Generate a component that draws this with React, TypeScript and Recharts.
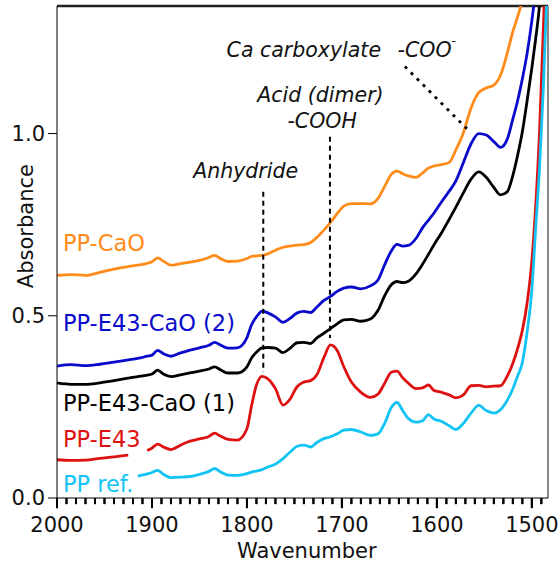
import { LineChart, Line, XAxis, YAxis, ReferenceLine, ReferenceDot } from 'recharts'

// wavenumber (cm-1) sample points
const wavenumbers = [
  2000, 1985, 1970, 1955, 1940, 1925, 1915, 1905, 1900, 1894,
  1888, 1880, 1870, 1860, 1850, 1840, 1834, 1828, 1820, 1810,
  1800, 1795, 1790, 1784, 1778, 1770, 1762, 1755, 1747, 1740,
  1733, 1726, 1719, 1712, 1705, 1698, 1690, 1680, 1670, 1662,
  1655, 1648, 1642, 1636, 1630, 1622, 1615, 1609, 1603, 1595,
  1587, 1580, 1572, 1564, 1556, 1548, 1540, 1533, 1526, 1520,
  1515, 1510, 1505, 1500, 1496, 1492, 1488, 1484,
]

const ppCaO = [
  0.611, 0.613, 0.611, 0.619, 0.628, 0.635, 0.639, 0.644, 0.648, 0.659,
  0.65, 0.639, 0.643, 0.647, 0.652, 0.66, 0.666, 0.657, 0.649, 0.65,
  0.657, 0.663, 0.664, 0.666, 0.67, 0.68, 0.688, 0.691, 0.694, 0.695,
  0.701, 0.716, 0.735, 0.756, 0.78, 0.801, 0.808, 0.808, 0.807, 0.822,
  0.855, 0.888, 0.897, 0.89, 0.884, 0.88, 0.892, 0.905, 0.911, 0.915,
  0.921, 0.955, 1.003, 1.07, 1.112, 1.125, 1.133, 1.16, 1.22, 1.28,
  1.32, 1.37, 1.46, 1.58, 1.7, 1.85, 2.0, 2.1,
]

const ppE43CaO2 = [
  0.362, 0.366, 0.363, 0.367, 0.373, 0.379, 0.383, 0.389, 0.392, 0.405,
  0.396, 0.389, 0.398, 0.406, 0.412, 0.419, 0.427, 0.42, 0.411, 0.412,
  0.44, 0.476, 0.497, 0.513, 0.508, 0.497, 0.482, 0.492, 0.508, 0.512,
  0.509, 0.525, 0.542, 0.553, 0.567, 0.576, 0.579, 0.574, 0.582, 0.598,
  0.64, 0.678, 0.696, 0.691, 0.693, 0.712, 0.742, 0.762, 0.782, 0.813,
  0.842, 0.87, 0.921, 0.972, 1.0, 0.996, 0.978, 0.962, 0.984, 1.04,
  1.09, 1.15, 1.22, 1.31, 1.4, 1.55, 1.72, 1.9,
]

const ppE43CaO1 = [
  0.316, 0.312, 0.312, 0.316, 0.322, 0.329, 0.333, 0.337, 0.34, 0.351,
  0.34, 0.333, 0.338, 0.343, 0.348, 0.354, 0.36, 0.352, 0.343, 0.343,
  0.36, 0.385, 0.4, 0.412, 0.413, 0.411, 0.399, 0.41, 0.426, 0.427,
  0.424, 0.44, 0.452, 0.465, 0.478, 0.489, 0.49, 0.485, 0.491, 0.515,
  0.555, 0.585, 0.594, 0.591, 0.595, 0.615, 0.642, 0.668, 0.695, 0.728,
  0.765, 0.798, 0.838, 0.875, 0.895, 0.88, 0.852, 0.832, 0.84, 0.885,
  0.94, 1.005, 1.09, 1.18, 1.26, 1.35, 1.5, 1.65,
]

// gaps (null) where the label covers the trace
const ppE43 = [
  0.105, 0.103, 0.104, 0.109, 0.113, 0.118, null, 0.13, 0.137, 0.148,
  0.14, 0.133, 0.145, 0.156, 0.162, 0.169, 0.178, 0.17, 0.161, 0.159,
  0.19, 0.255, 0.31, 0.334, 0.327, 0.3, 0.255, 0.27, 0.306, 0.318,
  0.322, 0.34, 0.385, 0.42, 0.405, 0.36, 0.318, 0.29, 0.276, 0.285,
  0.315, 0.345, 0.348, 0.33, 0.315, 0.3, 0.302, 0.31, 0.295, 0.29,
  0.283, 0.275, 0.283, 0.308, 0.309, 0.305, 0.307, 0.308, 0.334, 0.37,
  0.41, 0.46, 0.535, 0.65, 0.8, 1.0, 1.28, 1.6,
]

const ppRef = [
  null, null, null, null, null, null, 0.06, 0.066, 0.07, 0.076,
  0.065, 0.056, 0.057, 0.059, 0.065, 0.073, 0.081, 0.072, 0.063, 0.062,
  0.067, 0.071, 0.074, 0.078, 0.085, 0.093, 0.108, 0.125, 0.142, 0.145,
  0.14, 0.153, 0.163, 0.168, 0.176, 0.186, 0.188, 0.181, 0.172, 0.176,
  0.205, 0.248, 0.262, 0.24, 0.218, 0.208, 0.212, 0.229, 0.217, 0.21,
  0.198, 0.188, 0.205, 0.233, 0.254, 0.24, 0.233, 0.242, 0.268, 0.3,
  0.335, 0.372, 0.455, 0.57, 0.74, 0.9, 1.12, 1.4,
]

const yTicks = [0, 0.5, 1.0]
const xTicks = Array.from({ length: 52 }, (_, i) => 2000 - i * 10)

const data = wavenumbers.map((wn, i) => ({
  wn,
  ppCaO: ppCaO[i],
  ppE43CaO2: ppE43CaO2[i],
  ppE43CaO1: ppE43CaO1[i],
  ppE43: ppE43[i],
  ppRef: ppRef[i],
}))

const FONT = 'DejaVu Sans'
const C = {
  orange: '#ff8c1a',
  blue: '#0a0acc',
  black: '#000000',
  red: '#dd1111',
  cyan: '#12c3f3',
}

// tick mark every 10, longer with a label every 100
const XTick = (props: any) => {
  const { x, y, payload } = props
  const v = payload.value
  const major = v % 100 === 0
  return (
    <g>
      <line x1={x} x2={x} y1={y} y2={y + (major ? 10 : 6)} stroke="#000" strokeWidth={2} />
      {major && (
        <text x={x} y={y + 34} textAnchor="middle" fontSize={21} fontFamily={FONT} fill="#111">
          {v}
        </text>
      )}
    </g>
  )
}

const seriesLabel = (text: string, color: string) => (p: any) => (
  <text x={p.cx} y={p.cy} fill={color} fontSize={22.5} fontFamily={FONT}>
    {text}
  </text>
)

const note = (text: string) => (p: any) => (
  <text x={p.cx} y={p.cy} textAnchor="middle" fontSize={20.5} fontFamily={FONT} fontStyle="italic" fill="#111">
    {text}
  </text>
)

export default function App() {
  return (
    <div style={{ position: 'absolute', left: 0, top: 0 }}>
      <LineChart width={558} height={562} data={data} margin={{ top: 6, right: 10, bottom: 0, left: 0 }}>
        <XAxis
          dataKey="wn"
          type="number"
          domain={[1483, 2000]}
          reversed
          ticks={xTicks}
          interval={0}
          tickSize={0}
          tickMargin={0}
          tick={<XTick />}
          tickLine={false}
          stroke="#000"
          height={64}
          allowDataOverflow
        />
        <YAxis
          type="number"
          domain={[0, 1.35]}
          ticks={yTicks}
          width={57}
          tickSize={9}
          tickMargin={3}
          allowDataOverflow
          stroke="#000"
          tickFormatter={(v: number) => v.toFixed(1)}
          tick={{ fontSize: 21, fontFamily: FONT, fill: '#111' }}
        />

        {/* plot frame: top and right edges */}
        <ReferenceLine y={1.35} stroke="#222" strokeWidth={2.5} ifOverflow="visible" />
        <ReferenceLine x={1483} stroke="#888" strokeWidth={2} ifOverflow="visible" />

        <Line dataKey="ppCaO" stroke={C.orange} strokeWidth={2.8} dot={false} type="monotone" isAnimationActive={false} />
        <Line dataKey="ppE43CaO2" stroke={C.blue} strokeWidth={2.8} dot={false} type="monotone" isAnimationActive={false} />
        <Line dataKey="ppE43CaO1" stroke={C.black} strokeWidth={2.8} dot={false} type="monotone" isAnimationActive={false} />
        <Line dataKey="ppE43" stroke={C.red} strokeWidth={2.8} dot={false} type="monotone" isAnimationActive={false} />
        <Line dataKey="ppRef" stroke={C.cyan} strokeWidth={2.8} dot={false} type="monotone" isAnimationActive={false} />

        {/* peak markers */}
        <ReferenceLine segment={[{ x: 1782.8, y: 0.84 }, { x: 1782.8, y: 0.346 }]} stroke="#000" strokeWidth={2} strokeDasharray="5 4" />
        <ReferenceLine segment={[{ x: 1712.6, y: 0.991 }, { x: 1712.6, y: 0.439 }]} stroke="#000" strokeWidth={2} strokeDasharray="5 4" />
        <ReferenceLine segment={[{ x: 1633.7, y: 1.184 }, { x: 1565.3, y: 1.005 }]} stroke="#000" strokeWidth={2.8} strokeDasharray="3 5.5" />

        {/* axis titles, placed outside the plot box */}
        <ReferenceDot x={1737} y={-0.164} r={0} ifOverflow="visible" shape={(p: any) => (
          <text x={p.cx} y={p.cy} textAnchor="middle" fontSize={21} fontFamily={FONT} fill="#111">
            Wavenumber
          </text>
        )} />
        <ReferenceDot x={2025.3} y={0.746} r={0} ifOverflow="visible" shape={(p: any) => (
          <text x={p.cx} y={p.cy} transform={`rotate(-90 ${p.cx} ${p.cy})`} textAnchor="middle" fontSize={21} fontFamily={FONT} fill="#111">
            Absorbance
          </text>
        )} />

        {/* annotations */}
        <ReferenceDot x={1821.4} y={1.211} r={0} shape={(p: any) => (
          <text x={p.cx} y={p.cy} fontSize={20.5} fontFamily={FONT} fontStyle="italic" fill="#111">
            Ca carboxylate
            <tspan x={p.cx + 171}>-COO</tspan>
            <tspan dy={-12} fontSize={12}>-</tspan>
          </text>
        )} />
        <ReferenceDot x={1722.6} y={1.0875} r={0} shape={note('Acid (dimer)')} />
        <ReferenceDot x={1720.8} y={1.015} r={0} shape={note('-COOH')} />
        <ReferenceDot x={1801.4} y={0.878} r={0} shape={note('Anhydride')} />

        {/* series labels */}
        <ReferenceDot x={1993.7} y={0.677} r={0} shape={seriesLabel('PP-CaO', C.orange)} />
        <ReferenceDot x={1993.7} y={0.458} r={0} shape={seriesLabel('PP-E43-CaO (2)', C.blue)} />
        <ReferenceDot x={1993.7} y={0.239} r={0} shape={seriesLabel('PP-E43-CaO (1)', C.black)} />
        <ReferenceDot x={1993.7} y={0.141} r={0} shape={seriesLabel('PP-E43', C.red)} />
        <ReferenceDot x={1993.7} y={0.0173} r={0} shape={seriesLabel('PP ref.', C.cyan)} />

        {/* x tick marks, drawn last so nothing sits on top of them */}
        {xTicks.map((t) => (
          <ReferenceLine
            key={t}
            segment={[{ x: t, y: 0 }, { x: t, y: t % 100 === 0 ? -0.028 : -0.017 }]}
            ifOverflow="visible"
            stroke="#000"
            strokeWidth={2}
          />
        ))}
      </LineChart>
    </div>
  )
}
